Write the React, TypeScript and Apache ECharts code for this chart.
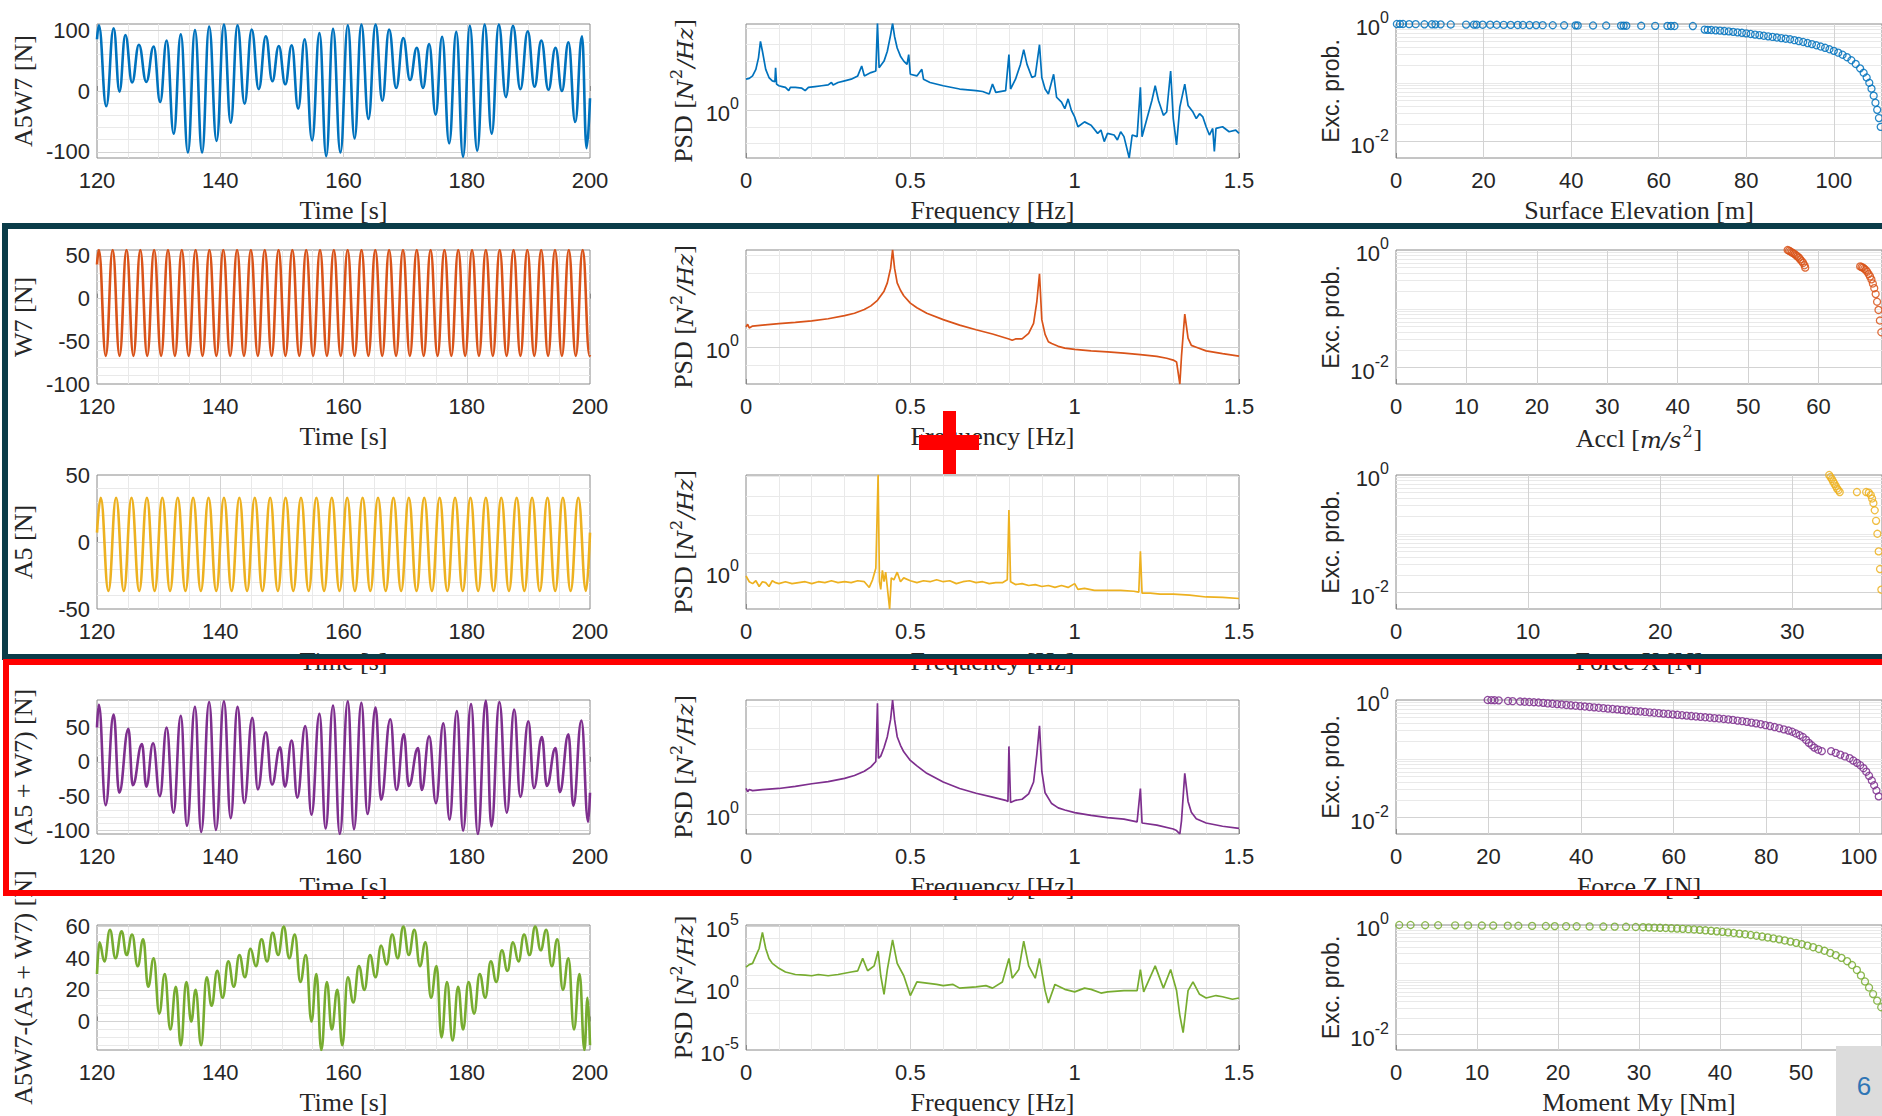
import React, { useEffect, useRef } from 'react';
import * as echarts from 'echarts';

// ---------------- data ----------------
// Time series: [time s, value N] (turning points of the curves)
const a5w7Time = [
  [120.0, 85], [120.3, 108], [121.5, -25], [122.7, 103], [123.65, -1], [124.6, 92], [125.7, 14], [126.8, 76], [128.0, 15], [129.2, 73], [130.25, -18], [131.3, 83], [132.45, -70], [133.6, 93], [134.75, -101], [135.9, 100], [137.05, -101], [138.2, 106], [139.4, -82], [140.6, 109], [141.7, -52], [142.8, 108], [143.95, -21], [145.1, 101], [146.25, 3], [147.4, 90], [148.45, 16], [149.5, 74], [150.55, 11], [151.6, 75], [152.65, -29], [153.7, 85], [154.9, -81], [156.1, 95], [157.2, -107], [158.3, 102], [159.5, -101], [160.7, 108], [161.8, -78], [162.9, 109], [164.05, -46], [165.2, 109], [166.3, -16], [167.4, 101], [168.55, 5], [169.7, 87], [170.8, 18], [171.9, 71], [172.9, 5], [173.9, 77], [174.95, -39], [176.0, 89], [177.15, -86], [178.3, 97], [179.4, -108], [180.5, 107], [181.7, -98], [182.9, 109], [184.05, -70], [185.2, 109], [186.35, -10], [187.5, 107], [188.7, 3], [189.9, 98], [191.0, 7], [192.1, 83], [193.25, 2], [194.4, 71], [195.45, 0], [196.5, 80], [197.6, -51], [198.7, 90], [199.45, -94], [200.0, -12],
];
const w7Time = [
  [120.0, 40], [120.3, 57], [121.42, -67], [122.54, 57], [123.66, -67], [124.79, 57], [125.91, -67], [127.03, 57], [128.15, -67], [129.27, 57], [130.4, -67], [131.52, 57], [132.64, -67], [133.76, 57], [134.88, -67], [136.0, 57], [137.12, -67], [138.24, 57], [139.37, -67], [140.49, 57], [141.61, -67], [142.73, 57], [143.85, -67], [144.97, 57], [146.1, -67], [147.22, 57], [148.34, -67], [149.46, 57], [150.58, -67], [151.7, 57], [152.83, -67], [153.95, 57], [155.07, -67], [156.19, 57], [157.31, -67], [158.43, 57], [159.55, -67], [160.67, 57], [161.8, -67], [162.92, 57], [164.04, -67], [165.16, 57], [166.28, -67], [167.4, 57], [168.53, -67], [169.65, 57], [170.77, -67], [171.89, 57], [173.01, -67], [174.13, 57], [175.26, -67], [176.38, 57], [177.5, -67], [178.62, 57], [179.74, -67], [180.86, 57], [181.98, -67], [183.1, 57], [184.23, -67], [185.35, 57], [186.47, -67], [187.59, 57], [188.71, -67], [189.83, 57], [190.96, -67], [192.08, 57], [193.2, -67], [194.32, 57], [195.44, -67], [196.56, 57], [197.69, -67], [198.81, 57], [199.93, -67], [200.0, -66],
];
const a5Time = [
  [120.0, 7], [120.6, 33], [121.85, -36.5], [123.1, 33], [124.35, -36.5], [125.6, 33], [126.85, -36.5], [128.1, 33], [129.35, -36.5], [130.6, 33], [131.85, -36.5], [133.1, 33], [134.35, -36.5], [135.6, 33], [136.85, -36.5], [138.1, 33], [139.35, -36.5], [140.6, 33], [141.85, -36.5], [143.1, 33], [144.35, -36.5], [145.6, 33], [146.85, -36.5], [148.1, 33], [149.35, -36.5], [150.6, 33], [151.85, -36.5], [153.1, 33], [154.35, -36.5], [155.6, 33], [156.85, -36.5], [158.1, 33], [159.35, -36.5], [160.6, 33], [161.85, -36.5], [163.1, 33], [164.35, -36.5], [165.6, 33], [166.85, -36.5], [168.1, 33], [169.35, -36.5], [170.6, 33], [171.85, -36.5], [173.1, 33], [174.35, -36.5], [175.6, 33], [176.85, -36.5], [178.1, 33], [179.35, -36.5], [180.6, 33], [181.85, -36.5], [183.1, 33], [184.35, -36.5], [185.6, 33], [186.85, -36.5], [188.1, 33], [189.35, -36.5], [190.6, 33], [191.85, -36.5], [193.1, 33], [194.35, -36.5], [195.6, 33], [196.85, -36.5], [198.1, 33], [199.35, -36.5], [200.0, 7],
];
const sumTime = [
  [120.0, 50], [120.3, 83], [121.4, -63], [122.7, 69], [123.6, -45], [125.1, 48], [125.8, -34], [127.3, 26], [128.0, -36], [129.1, 27], [130.2, -50], [131.3, 50], [132.4, -74], [133.6, 67], [134.6, -93], [135.9, 80], [136.9, -102], [138.2, 87], [139.3, -99], [140.6, 88], [141.7, -82], [142.8, 80], [143.9, -60], [145.2, 64], [146.1, -40], [147.4, 43], [148.4, -33], [149.7, 21], [150.5, -36], [151.6, 31], [152.5, -52], [153.8, 52], [154.8, -77], [156.1, 70], [157.1, -97], [158.3, 82], [159.4, -105], [160.7, 88], [161.7, -98], [162.9, 86], [163.9, -76], [165.2, 79], [166.1, -55], [167.6, 62], [168.6, -41], [169.8, 40], [170.6, -35], [172.1, 20], [172.7, -41], [173.9, 37], [175.0, -60], [176.2, 56], [177.2, -84], [178.4, 74], [179.4, -100], [180.7, 84], [181.8, -105], [183.1, 89], [184.0, -94], [185.3, 87], [186.5, -74], [187.7, 76], [188.7, -51], [190.0, 59], [190.9, -38], [192.2, 36], [193.0, -35], [194.4, 20], [195.1, -44], [196.5, 40], [197.3, -64], [198.6, 60], [199.7, -87], [200.0, -45],
];
const diffTime = [
  [120.0, 30], [120.4, 50], [121.2, 38], [122.1, 58], [123.0, 40], [124.0, 57], [124.8, 42], [125.7, 55], [126.6, 35], [127.5, 52], [128.3, 22], [129.2, 40], [130.1, 5], [131.0, 30], [131.9, -5], [132.8, 22], [133.6, -15], [134.5, 25], [135.3, 0], [136.0, 20], [136.9, -15], [137.8, 28], [138.6, 10], [139.5, 32], [140.4, 15], [141.3, 38], [142.2, 22], [143.1, 42], [144.0, 28], [144.9, 46], [145.8, 35], [146.7, 52], [147.6, 38], [148.5, 56], [149.4, 42], [150.3, 60], [151.2, 40], [152.1, 55], [153.0, 25], [153.9, 42], [154.8, 0], [155.6, 30], [156.4, -18], [157.3, 25], [158.1, -5], [159.0, 20], [159.8, -15], [160.7, 28], [161.6, 12], [162.5, 35], [163.4, 20], [164.3, 42], [165.2, 28], [166.1, 48], [167.0, 36], [167.9, 55], [168.8, 40], [169.7, 60], [170.6, 42], [171.5, 58], [172.4, 35], [173.3, 50], [174.2, 15], [175.1, 35], [175.9, -10], [176.8, 25], [177.7, -12], [178.6, 22], [179.4, -5], [180.3, 25], [181.2, 5], [182.1, 30], [183.0, 15], [183.9, 38], [184.8, 25], [185.7, 45], [186.6, 32], [187.5, 50], [188.4, 38], [189.3, 55], [190.2, 42], [191.1, 60], [192.0, 45], [192.9, 58], [193.8, 35], [194.7, 52], [195.6, 20], [196.5, 40], [197.4, -5], [198.3, 30], [199.1, -18], [199.6, 15], [200.0, -15],
];

// PSD: [frequency Hz, log10 PSD]
const a5w7Psd = [
  [0.0, 1.9], [0.01, 1.95], [0.02, 2.1], [0.03, 2.5], [0.038, 3.2], [0.044, 4.2], [0.05, 3.6], [0.06, 2.5], [0.07, 2.0], [0.08, 1.8], [0.088, 1.75], [0.09, 2.6], [0.093, 1.6], [0.1, 1.5], [0.11, 1.45], [0.12, 1.4], [0.13, 1.2], [0.135, 1.4], [0.15, 1.4], [0.17, 1.35], [0.18, 1.2], [0.19, 1.4], [0.21, 1.45], [0.23, 1.5], [0.25, 1.55], [0.26, 1.7], [0.265, 1.55], [0.28, 1.7], [0.3, 1.8], [0.32, 1.9], [0.34, 2.1], [0.352, 2.7], [0.36, 2.1], [0.38, 2.3], [0.395, 2.4], [0.4, 5.3], [0.405, 2.6], [0.42, 3.0], [0.43, 3.6], [0.44, 4.6], [0.446, 5.3], [0.452, 4.5], [0.46, 3.8], [0.47, 3.3], [0.48, 3.0], [0.49, 2.8], [0.495, 3.4], [0.5, 2.2], [0.52, 2.1], [0.535, 2.5], [0.54, 1.9], [0.56, 1.7], [0.6, 1.5], [0.65, 1.3], [0.7, 1.2], [0.72, 1.15], [0.74, 1.0], [0.75, 1.6], [0.76, 1.1], [0.79, 1.2], [0.8, 3.4], [0.805, 1.3], [0.82, 1.9], [0.835, 2.8], [0.845, 3.7], [0.855, 2.8], [0.87, 2.0], [0.88, 2.1], [0.893, 4.0], [0.9, 2.0], [0.91, 1.3], [0.92, 1.0], [0.936, 2.2], [0.945, 0.8], [0.96, 0.5], [0.97, 0.1], [0.98, 0.7], [0.99, 0.0], [1.0, -0.4], [1.01, -1.0], [1.03, -0.7], [1.05, -0.9], [1.07, -1.4], [1.08, -1.2], [1.09, -1.9], [1.1, -1.4], [1.12, -1.5], [1.13, -1.8], [1.14, -1.3], [1.15, -1.6], [1.166, -2.9], [1.175, -1.5], [1.19, -1.6], [1.2, 1.4], [1.205, -1.6], [1.22, -0.5], [1.235, 0.6], [1.245, 1.5], [1.255, 0.6], [1.27, -0.3], [1.28, -0.1], [1.292, 2.4], [1.3, -0.5], [1.31, -2.1], [1.32, 0.2], [1.335, 1.6], [1.345, 0.3], [1.36, -0.1], [1.37, -0.5], [1.38, -0.2], [1.39, -0.4], [1.4, -1.0], [1.41, -1.5], [1.42, -1.1], [1.425, -2.5], [1.43, -1.1], [1.45, -1.0], [1.47, -1.3], [1.49, -1.2], [1.5, -1.4],
];
const w7Psd = [
  [0, 1.1], [0.005, 1.25], [0.01, 1.05], [0.02, 1.15], [0.05, 1.2], [0.1, 1.28], [0.15, 1.35], [0.2, 1.43], [0.25, 1.55], [0.3, 1.72], [0.33, 1.85], [0.36, 2.05], [0.38, 2.25], [0.4, 2.55], [0.42, 3.05], [0.43, 3.5], [0.44, 4.3], [0.446, 5.3], [0.452, 4.3], [0.46, 3.5], [0.47, 3.1], [0.48, 2.8], [0.5, 2.4], [0.52, 2.15], [0.55, 1.85], [0.6, 1.5], [0.65, 1.2], [0.7, 0.95], [0.75, 0.72], [0.8, 0.45], [0.81, 0.38], [0.82, 0.45], [0.84, 0.45], [0.86, 0.75], [0.875, 1.3], [0.885, 2.5], [0.893, 4.0], [0.9, 1.5], [0.91, 0.7], [0.92, 0.3], [0.93, 0.2], [0.95, 0.05], [0.97, -0.05], [1.0, -0.12], [1.05, -0.2], [1.1, -0.25], [1.15, -0.32], [1.2, -0.4], [1.25, -0.5], [1.28, -0.6], [1.3, -0.7], [1.31, -0.8], [1.32, -2.0], [1.325, -0.5], [1.335, 1.8], [1.345, 0.5], [1.355, 0.1], [1.37, 0.0], [1.4, -0.2], [1.45, -0.35], [1.5, -0.48],
];
const a5Psd = [
  [0, -0.2], [0.01, -0.5], [0.02, -0.6], [0.03, -0.45], [0.04, -0.75], [0.05, -0.5], [0.06, -0.55], [0.07, -0.75], [0.08, -0.45], [0.09, -0.55], [0.1, -0.6], [0.12, -0.5], [0.14, -0.6], [0.16, -0.55], [0.18, -0.5], [0.2, -0.6], [0.22, -0.5], [0.24, -0.55], [0.26, -0.45], [0.28, -0.55], [0.3, -0.5], [0.32, -0.55], [0.34, -0.45], [0.36, -0.5], [0.375, -0.8], [0.385, -0.4], [0.395, 0.2], [0.402, 5.1], [0.406, -0.5], [0.41, -0.9], [0.415, 0.1], [0.42, -0.5], [0.425, 0.0], [0.43, -0.8], [0.437, -1.93], [0.442, -0.3], [0.45, -0.4], [0.46, 0.0], [0.47, -0.5], [0.48, -0.3], [0.5, -0.45], [0.52, -0.55], [0.54, -0.45], [0.56, -0.5], [0.58, -0.4], [0.6, -0.5], [0.62, -0.45], [0.64, -0.6], [0.66, -0.5], [0.68, -0.45], [0.7, -0.55], [0.72, -0.5], [0.74, -0.6], [0.76, -0.55], [0.78, -0.55], [0.795, -0.4], [0.8, 3.25], [0.805, -0.5], [0.82, -0.65], [0.84, -0.6], [0.86, -0.7], [0.88, -0.65], [0.9, -0.75], [0.92, -0.7], [0.94, -0.8], [0.96, -0.7], [0.98, -0.8], [1.0, -0.6], [1.01, -0.9], [1.03, -0.85], [1.06, -0.95], [1.1, -0.95], [1.14, -0.95], [1.18, -1.0], [1.195, -1.05], [1.2, 1.1], [1.205, -1.1], [1.23, -1.1], [1.26, -1.15], [1.3, -1.15], [1.35, -1.2], [1.4, -1.3], [1.45, -1.32], [1.5, -1.38],
];
const sumPsd = [
  [0, 1.2], [0.005, 1.05], [0.01, 1.15], [0.02, 1.1], [0.05, 1.15], [0.1, 1.2], [0.15, 1.3], [0.2, 1.42], [0.25, 1.52], [0.3, 1.67], [0.33, 1.8], [0.36, 2.0], [0.38, 2.2], [0.395, 2.45], [0.4, 5.15], [0.403, 2.6], [0.41, 2.7], [0.42, 3.1], [0.43, 3.6], [0.44, 4.4], [0.446, 5.3], [0.452, 4.4], [0.46, 3.6], [0.47, 3.2], [0.48, 2.9], [0.5, 2.5], [0.52, 2.25], [0.55, 1.9], [0.6, 1.5], [0.65, 1.2], [0.7, 0.98], [0.75, 0.8], [0.79, 0.65], [0.797, 0.6], [0.8, 3.15], [0.805, 0.55], [0.82, 0.65], [0.84, 0.7], [0.86, 0.95], [0.875, 1.5], [0.885, 2.8], [0.893, 4.1], [0.9, 2.0], [0.91, 1.0], [0.93, 0.5], [0.95, 0.3], [0.97, 0.2], [1.0, 0.08], [1.05, -0.05], [1.1, -0.15], [1.15, -0.22], [1.19, -0.35], [1.2, 1.2], [1.205, -0.4], [1.25, -0.5], [1.3, -0.68], [1.31, -0.75], [1.32, -0.91], [1.325, -0.3], [1.335, 1.9], [1.345, 0.6], [1.355, 0.1], [1.37, -0.2], [1.4, -0.4], [1.45, -0.55], [1.5, -0.65],
];
const diffPsd = [
  [0, 1.7], [0.01, 1.9], [0.02, 2.0], [0.03, 2.6], [0.04, 3.2], [0.05, 4.5], [0.06, 3.2], [0.07, 2.4], [0.08, 2.0], [0.09, 1.8], [0.1, 1.6], [0.12, 1.3], [0.15, 1.1], [0.18, 1.05], [0.2, 1.0], [0.22, 1.1], [0.25, 1.0], [0.28, 1.1], [0.3, 1.2], [0.32, 1.3], [0.34, 1.4], [0.355, 2.4], [0.37, 1.4], [0.39, 1.8], [0.402, 3.0], [0.41, 1.0], [0.42, -0.5], [0.43, 1.5], [0.446, 3.9], [0.46, 2.0], [0.48, 1.0], [0.5, -0.6], [0.52, 0.5], [0.55, 0.4], [0.58, 0.3], [0.6, 0.2], [0.63, 0.3], [0.65, 0.0], [0.7, 0.1], [0.73, 0.2], [0.75, 0.0], [0.78, 0.5], [0.8, 2.4], [0.81, 0.8], [0.83, 1.5], [0.845, 3.8], [0.86, 1.8], [0.88, 0.8], [0.893, 2.4], [0.91, -0.2], [0.92, -1.2], [0.94, 0.3], [0.97, -0.1], [1.0, -0.3], [1.03, 0.0], [1.05, -0.1], [1.08, -0.4], [1.1, -0.3], [1.15, -0.2], [1.19, -0.2], [1.2, 1.5], [1.21, -0.3], [1.245, 1.8], [1.27, 0.0], [1.292, 1.5], [1.31, -0.2], [1.32, -2.2], [1.33, -3.6], [1.345, -0.2], [1.36, 0.5], [1.38, -0.5], [1.4, -0.8], [1.43, -0.6], [1.45, -0.7], [1.48, -0.9], [1.5, -0.8],
];

// Exceedance probability: [x, log10 probability]
const a5w7Exc = [
  [0.2, 0], [0.9, 0], [1.6, 0], [3.0, -0.003], [4.5, -0.003], [6.5, -0.005], [8.2, -0.005], [9.0, -0.006], [10.2, -0.006], [12.5, -0.008], [16.0, -0.01], [17.8, -0.01], [18.4, -0.011], [19.8, -0.012], [21.5, -0.012], [23.0, -0.013], [24.6, -0.014], [26.2, -0.015], [27.8, -0.016], [29.0, -0.017], [30.5, -0.018], [32.0, -0.019], [33.5, -0.02], [35.8, -0.021], [38.4, -0.022], [41.0, -0.023], [41.5, -0.024], [45.0, -0.025], [48.0, -0.026], [51.4, -0.027], [52.0, -0.028], [52.6, -0.029], [56.0, -0.03], [59.2, -0.031], [62.0, -0.032], [62.8, -0.033], [63.6, -0.034], [67.8, -0.035],
  [70.5, -0.095], [71.2, -0.1], [72, -0.102], [73, -0.108], [74, -0.113], [75, -0.12], [76, -0.126], [77, -0.134], [78, -0.142], [79, -0.15], [80, -0.16], [81, -0.17], [82, -0.18], [83, -0.19], [84, -0.2], [85, -0.21], [86, -0.22], [87, -0.23], [88, -0.24], [89, -0.25], [90, -0.26], [91, -0.275], [92, -0.29], [93, -0.306], [94, -0.324], [95, -0.342], [96, -0.362], [97, -0.383], [98, -0.405], [99, -0.43], [100, -0.457], [101, -0.488], [102, -0.523], [103, -0.565], [104, -0.617], [105, -0.68], [106, -0.755], [106.8, -0.83], [107.5, -0.91], [108.1, -1.0], [108.6, -1.1], [109.1, -1.22], [109.5, -1.34], [109.9, -1.46], [110.3, -1.6], [110.7, -1.75],
];
const w7Exc = [
  [55.6, 0], [55.8, -0.012], [56.0, -0.025], [56.2, -0.04], [56.4, -0.055], [56.6, -0.07], [56.8, -0.09], [57.0, -0.11], [57.2, -0.13], [57.4, -0.16], [57.6, -0.19], [57.8, -0.22], [58.0, -0.26], [58.1, -0.3],
  [65.9, -0.28], [66.1, -0.29], [66.3, -0.3], [66.5, -0.32], [66.7, -0.34], [66.9, -0.37], [67.1, -0.41], [67.3, -0.45], [67.5, -0.5], [67.7, -0.57], [67.9, -0.65], [68.1, -0.75], [68.3, -0.88], [68.5, -1.02], [68.7, -1.2], [68.9, -1.4], [69.1, -1.65],
];
const a5Exc = [
  [32.8, 0], [32.9, -0.035], [33.0, -0.07], [33.1, -0.11], [33.2, -0.15], [33.3, -0.19], [33.4, -0.23], [33.5, -0.26], [33.6, -0.29],
  [34.9, -0.29], [35.6, -0.29],
  [35.8, -0.3], [35.95, -0.34], [36.05, -0.4], [36.15, -0.48], [36.25, -0.6], [36.35, -0.78], [36.45, -1.0], [36.55, -1.3], [36.65, -1.6], [36.75, -1.95],
];
const sumExc = [
  [19.8, 0], [20.6, -0.002], [21.3, -0.004], [22.2, -0.006], [24.2, -0.017], [25.2, -0.02], [26.8, -0.026], [27.8, -0.03], [28.8, -0.034], [29.8, -0.038], [30.8, -0.043], [31.8, -0.048], [32.8, -0.058], [33.8, -0.064], [34.8, -0.07], [35.8, -0.077], [36.8, -0.084], [37.8, -0.09], [38.8, -0.097], [39.8, -0.104], [40.8, -0.111], [41.8, -0.118], [42.8, -0.125], [43.8, -0.132], [44.8, -0.139], [45.8, -0.146], [46.8, -0.153], [47.8, -0.16], [48.8, -0.168], [49.8, -0.175], [50.8, -0.182], [51.8, -0.189], [52.8, -0.196], [53.8, -0.203], [54.8, -0.21], [55.8, -0.217], [56.8, -0.224], [57.8, -0.231], [58.8, -0.238], [59.8, -0.245], [60.8, -0.252], [61.8, -0.259], [62.8, -0.266], [63.8, -0.273], [64.8, -0.28], [65.8, -0.287], [66.8, -0.294], [67.8, -0.301], [68.8, -0.308], [69.8, -0.315], [70.8, -0.323], [71.8, -0.331], [72.8, -0.339], [73.8, -0.35], [74.8, -0.36], [75.8, -0.372], [76.8, -0.385], [77.8, -0.398], [78.8, -0.412], [79.8, -0.427], [80.8, -0.443], [81.8, -0.46], [82.8, -0.48], [83.8, -0.5], [84.8, -0.52], [85.6, -0.54], [86.4, -0.57], [87.2, -0.6], [87.9, -0.63], [88.6, -0.68], [89.2, -0.73], [89.8, -0.77], [90.4, -0.81], [91.2, -0.845], [92.0, -0.87], [94.0, -0.87], [95.0, -0.9], [96.0, -0.93], [97.0, -0.96], [98.0, -0.99], [98.8, -1.03], [99.6, -1.07], [100.3, -1.11], [101.0, -1.16], [101.6, -1.22], [102.2, -1.29], [102.8, -1.37], [103.3, -1.45], [103.8, -1.54], [104.3, -1.64],
];
const diffExc = [
  [0.4, 0], [1.8, 0], [3.6, -0.004], [5.2, -0.004], [7.3, -0.006], [8.9, -0.008], [10.6, -0.01], [12.0, -0.01], [13.8, -0.012], [15.1, -0.014], [16.8, -0.016], [18.5, -0.018], [19.6, -0.02], [21.0, -0.022], [22.3, -0.024], [23.9, -0.026], [25.6, -0.028], [27.0, -0.03], [28.4, -0.033], [29.6, -0.036], [30.5, -0.04], [31.2, -0.043], [31.9, -0.047], [32.6, -0.051], [33.3, -0.055], [34.0, -0.06], [34.7, -0.065], [35.4, -0.07], [36.1, -0.076], [36.8, -0.082], [37.5, -0.089], [38.2, -0.097], [38.9, -0.106], [39.6, -0.115], [40.3, -0.125], [41.0, -0.135], [41.7, -0.146], [42.4, -0.157], [43.1, -0.169], [43.8, -0.182], [44.5, -0.196], [45.2, -0.211], [45.9, -0.227], [46.6, -0.244], [47.3, -0.262], [48.0, -0.282], [48.7, -0.303], [49.4, -0.326], [50.1, -0.35], [50.8, -0.377], [51.5, -0.405], [52.2, -0.437], [52.9, -0.47], [53.6, -0.51], [54.3, -0.55], [55.0, -0.6], [55.7, -0.66], [56.3, -0.73], [56.9, -0.82], [57.4, -0.92], [57.9, -1.03], [58.4, -1.14], [58.9, -1.26], [59.4, -1.38], [59.9, -1.5], [60.4, -1.63],
];

// tick labels
const timeTicks = [120, 140, 160, 180, 200];
const a5w7YTicks = [-100, 0, 100];
const w7YTicks = [-100, -50, 0, 50];
const a5YTicks = [-50, 0, 50];
const sumYTicks = [-100, -50, 0, 50];
const diffYTicks = [0, 20, 40, 60];
const psdXTicks = [0, 0.5, 1, 1.5];
const psdYTicksMost = [0];
const psdYTicksDiff = [-5, 0, 5];
const excYTicks = [0, -2];

// ---------------- styling ----------------
const BLUE = '#0072BD';
const ORANGE = '#D95319';
const YELLOW = '#EDB120';
const PURPLE = '#7E2F8E';
const GREEN = '#77AC30';
const SANS = '"Liberation Sans", Arial, Helvetica, sans-serif';
const SERIF = '"Liberation Serif", "Times New Roman", serif';
const MATH = '"DejaVu Serif", "Liberation Serif", serif';
const TXT = '#262626';
const BORDER = '#8a8a8a';
const MAJ = '#d3d3d3';
const MINC = '#e9e9e9';

const ROW_TOP = [24, 250, 475, 700, 925];
const BOX_H = 134;
const BOX_W = 493;
const COL_LEFT = [97, 746, 1396];

const rows = [
  { name: 'A5W7 [N]', color: BLUE, time: a5w7Time, yMin: -110, yMax: 110, yStep: 10, yTicks: a5w7YTicks, yMinor: 20,
    psd: a5w7Psd, psdLo: -2.9, psdHi: 5.26, psdTicks: psdYTicksMost,
    exc: a5w7Exc, excName: 'Surface Elevation [m]', excMax: 111, excStep: 20 },
  { name: 'W7 [N]', color: ORANGE, time: w7Time, yMin: -100, yMax: 57, yStep: 10, yTicks: w7YTicks, yMinor: 10,
    psd: w7Psd, psdLo: -2.0, psdHi: 5.29, psdTicks: psdYTicksMost,
    exc: w7Exc, excName: '{n|Accl [}{i|m/s}{s|2}{n|]}', excMax: 69, excStep: 10 },
  { name: 'A5 [N]', color: YELLOW, time: a5Time, yMin: -50, yMax: 50, yStep: 10, yTicks: a5YTicks, yMinor: 10,
    psd: a5Psd, psdLo: -1.93, psdHi: 5.09, psdTicks: psdYTicksMost,
    exc: a5Exc, excName: 'Force X [N]', excMax: 36.8, excStep: 10 },
  { name: '(A5 + W7) [N]', color: PURPLE, time: sumTime, yMin: -105, yMax: 90, yStep: 5, yTicks: sumYTicks, yMinor: 10,
    psd: sumPsd, psdLo: -0.91, psdHi: 5.3, psdTicks: psdYTicksMost,
    exc: sumExc, excName: 'Force Z [N]', excMax: 105, excStep: 20 },
  { name: 'A5W7-(A5 + W7) [N]', color: GREEN, time: diffTime, yMin: -18, yMax: 61, yStep: 1, yTicks: diffYTicks, yMinor: 5,
    psd: diffPsd, psdLo: -5.0, psdHi: 5.1, psdTicks: psdYTicksDiff,
    exc: diffExc, excName: 'Moment My [Nm]', excMax: 60, excStep: 10 },
];

const labelStyle = { fontFamily: SANS, fontSize: 22, color: TXT };
const supRich = {
  b: { fontFamily: SANS, fontSize: 22, color: TXT, verticalAlign: 'bottom' },
  s: { fontFamily: SANS, fontSize: 16, color: TXT, verticalAlign: 'bottom', padding: [0, 0, 13, 0] },
};
const nameStyle = {
  fontFamily: SERIF, fontSize: 26, color: TXT,
  rich: {
    n: { fontFamily: SERIF, fontSize: 26, color: TXT, verticalAlign: 'bottom' },
    i: { fontFamily: MATH, fontSize: 23, color: TXT, fontStyle: 'italic', verticalAlign: 'bottom' },
    s: { fontFamily: MATH, fontSize: 16, color: TXT, verticalAlign: 'bottom', padding: [0, 1, 12, 1] },
  },
};

const near = (a: number, b: number) => Math.abs(a - b) < 1e-6;

function gridLineSeries(g: number, xMaj: number[], xMin: number[], yMaj: number[], yMin: number[]) {
  const data: any[] = [];
  xMin.forEach((v) => data.push({ xAxis: v, lineStyle: { color: MINC } }));
  yMin.forEach((v) => data.push({ yAxis: v, lineStyle: { color: MINC } }));
  xMaj.forEach((v) => data.push({ xAxis: v, lineStyle: { color: MAJ } }));
  yMaj.forEach((v) => data.push({ yAxis: v, lineStyle: { color: MAJ } }));
  return {
    type: 'line', xAxisIndex: g, yAxisIndex: g, data: [], silent: true, z: 1,
    markLine: {
      silent: true, z: 1, symbol: ['none', 'none'], animation: false,
      label: { show: false }, emphasis: { disabled: true },
      lineStyle: { width: 1, type: 'solid' }, data,
    },
  };
}

function stepValues(lo: number, hi: number, step: number) {
  const out: number[] = [];
  for (let k = Math.ceil(lo / step - 1e-9); k * step <= hi + 1e-9; k++) out.push(Math.round(k * step * 1000) / 1000);
  return out;
}

function buildOption() {
  const grid: any[] = [];
  const xAxis: any[] = [];
  const yAxis: any[] = [];
  const series: any[] = [];

  rows.forEach((row, r) => {
    // ---------- time history ----------
    let g = r * 3;
    grid.push({ left: COL_LEFT[0], top: ROW_TOP[r], width: BOX_W, height: BOX_H, show: true, borderColor: BORDER, borderWidth: 1, backgroundColor: '#fff' });
    xAxis.push({
      type: 'value', gridIndex: g, min: 120, max: 200, interval: 20,
      axisLine: { show: false }, axisTick: { show: true, inside: true, length: 5, lineStyle: { color: BORDER } }, splitLine: { show: false },
      axisLabel: { ...labelStyle, margin: 11, formatter: (v: number) => (timeTicks.some((t) => near(t, v)) ? String(v) : '') },
      name: 'Time [s]', nameLocation: 'middle', nameGap: 39, nameTextStyle: nameStyle,
    });
    yAxis.push({
      type: 'value', gridIndex: g, min: row.yMin, max: row.yMax, interval: row.yStep,
      axisLine: { show: false }, axisTick: { show: false }, splitLine: { show: false },
      axisLabel: { ...labelStyle, margin: 7, formatter: (v: number) => (row.yTicks.some((t) => near(t, v)) ? String(Math.round(v)) : '') },
      name: row.name, nameLocation: 'middle', nameGap: 61, nameTextStyle: nameStyle,
    });
    const txMin = stepValues(121, 199, 5).filter((v) => !timeTicks.includes(v));
    const txMaj = timeTicks.filter((v) => v > 120 && v < 200);
    const tyMaj = row.yTicks.filter((v) => v > row.yMin && v < row.yMax);
    const tyMin = stepValues(row.yMin + 0.01, row.yMax - 0.01, row.yMinor).filter((v) => !row.yTicks.includes(v));
    series.push(gridLineSeries(g, txMaj, txMin, tyMaj, tyMin));
    series.push({
      type: 'line', xAxisIndex: g, yAxisIndex: g, data: row.time, showSymbol: false, symbol: 'none',
      smooth: 0.45, smoothMonotone: 'x', silent: true, z: 3, clip: true,
      lineStyle: { color: row.color, width: 2.6 },
    });

    // ---------- PSD ----------
    g = r * 3 + 1;
    grid.push({ left: COL_LEFT[1], top: ROW_TOP[r], width: BOX_W, height: BOX_H, show: true, borderColor: BORDER, borderWidth: 1, backgroundColor: '#fff' });
    xAxis.push({
      type: 'value', gridIndex: g, min: 0, max: 1.5, interval: 0.5,
      axisLine: { show: false }, axisTick: { show: true, inside: true, length: 5, lineStyle: { color: BORDER } }, splitLine: { show: false },
      axisLabel: { ...labelStyle, margin: 11, formatter: (v: number) => (psdXTicks.some((t) => near(t, v)) ? String(v) : '') },
      name: 'Frequency [Hz]', nameLocation: 'middle', nameGap: 39, nameTextStyle: nameStyle,
    });
    const psdTickVals = row.psdTicks.map((e) => Math.pow(10, e));
    yAxis.push({
      type: 'log', logBase: 10, gridIndex: g, min: Math.pow(10, row.psdLo), max: Math.pow(10, row.psdHi),
      axisLine: { show: false }, axisTick: { show: false }, splitLine: { show: false },
      axisLabel: {
        ...labelStyle, margin: 7, customValues: psdTickVals, rich: supRich,
        formatter: (v: number) => {
          const e = Math.round(Math.log10(v) * 1000) / 1000;
          return row.psdTicks.some((t) => near(t, e)) ? `{b|10}{s|${e}}` : '';
        },
      },
      name: '{n|PSD [}{i|N}{s|2}{i|/Hz}{n|]}', nameLocation: 'middle', nameGap: 50, nameTextStyle: nameStyle,
    });
    const pxMaj = [0.5, 1.0];
    const pxMin = stepValues(0.1, 1.4, 0.1).filter((v) => !pxMaj.some((m) => near(m, v)));
    const decades = stepValues(row.psdLo + 0.01, row.psdHi - 0.01, 1);
    const pyMaj = decades.filter((e) => row.psdTicks.includes(e)).map((e) => Math.pow(10, e));
    const pyMin = decades.filter((e) => !row.psdTicks.includes(e)).map((e) => Math.pow(10, e));
    series.push(gridLineSeries(g, pxMaj, pxMin, pyMaj, pyMin));
    series.push({
      type: 'line', xAxisIndex: g, yAxisIndex: g, data: row.psd.map(([f, e]) => [f, Math.pow(10, e)]),
      showSymbol: false, symbol: 'none', silent: true, z: 3, clip: true,
      lineStyle: { color: row.color, width: 1.7 },
    });

    // ---------- exceedance probability ----------
    g = r * 3 + 2;
    grid.push({ left: COL_LEFT[2], top: ROW_TOP[r], width: BOX_W, height: BOX_H, show: true, borderColor: BORDER, borderWidth: 1, backgroundColor: '#fff' });
    xAxis.push({
      type: 'value', gridIndex: g, min: 0, max: row.excMax, interval: row.excStep,
      axisLine: { show: false }, axisTick: { show: true, inside: true, length: 5, lineStyle: { color: BORDER } }, splitLine: { show: false },
      axisLabel: { ...labelStyle, margin: 11, showMaxLabel: false },
      name: row.excName, nameLocation: 'middle', nameGap: 39, nameTextStyle: nameStyle,
    });
    yAxis.push({
      type: 'log', logBase: 10, gridIndex: g, min: Math.pow(10, -2.28), max: 1,
      axisLine: { show: false }, axisTick: { show: false }, splitLine: { show: false },
      axisLabel: {
        ...labelStyle, margin: 7, customValues: excYTicks.map((e) => Math.pow(10, e)), rich: supRich,
        formatter: (v: number) => {
          const e = Math.round(Math.log10(v) * 1000) / 1000;
          return excYTicks.some((t) => near(t, e)) ? `{b|10}{s|${e}}` : '';
        },
      },
      name: 'Exc. prob.', nameLocation: 'middle', nameGap: 54,
      nameTextStyle: { fontFamily: SANS, fontSize: 23, color: TXT },
    });
    const exMaj = stepValues(row.excStep, row.excMax - 0.01, row.excStep);
    const eyMaj: number[] = [0.01];
    const eyMin: number[] = [];
    [-3, -2, -1].forEach((d) => {
      for (let m = 1; m <= 9; m++) {
        const v = m * Math.pow(10, d);
        if (v > Math.pow(10, -2.28) && v < 0.999 && !near(v, 0.01)) eyMin.push(v);
      }
    });
    series.push(gridLineSeries(g, exMaj, [], eyMaj, eyMin));
    series.push({
      type: 'scatter', xAxisIndex: g, yAxisIndex: g, data: row.exc.map(([x, e]) => [x, Math.pow(10, e)]),
      symbol: 'circle', symbolSize: 7, silent: true, z: 3, clip: true,
      itemStyle: { color: 'transparent', borderColor: row.color, borderWidth: 1.3, opacity: 0.85 },
    });
  });

  const graphic = [
    { type: 'rect', z: 100, silent: true, shape: { x: 5, y: 226, width: 1900, height: 431 }, style: { fill: 'none', stroke: '#0b3c49', lineWidth: 6 } },
    { type: 'rect', z: 101, silent: true, shape: { x: 6, y: 662, width: 1900, height: 231 }, style: { fill: 'none', stroke: '#ff0000', lineWidth: 6 } },
    { type: 'rect', z: 102, silent: true, shape: { x: 943, y: 411, width: 13, height: 63 }, style: { fill: '#ff0000' } },
    { type: 'rect', z: 102, silent: true, shape: { x: 919, y: 435, width: 60, height: 15 }, style: { fill: '#ff0000' } },
    { type: 'rect', z: 103, silent: true, shape: { x: 1836, y: 1046, width: 46, height: 70 }, style: { fill: '#dcdcdc' } },
    { type: 'text', z: 104, silent: true, x: 1864, y: 1086, style: { text: '6', fill: '#2f75b5', font: '26px "Liberation Sans", Arial, sans-serif', textAlign: 'center', textVerticalAlign: 'middle' } },
  ];

  return { animation: false, backgroundColor: '#ffffff', grid, xAxis, yAxis, series, graphic };
}

export default function App() {
  const ref = useRef<HTMLDivElement>(null);
  useEffect(() => {
    document.body.style.margin = '0';
    document.body.style.overflow = 'hidden';
    const chart = echarts.init(ref.current!, null, { renderer: 'svg' });
    chart.setOption(buildOption() as any);
    return () => chart.dispose();
  }, []);
  return <div ref={ref} style={{ position: 'fixed', left: 0, top: 0, width: 1882, height: 1116, background: '#fff' }} />;
}
